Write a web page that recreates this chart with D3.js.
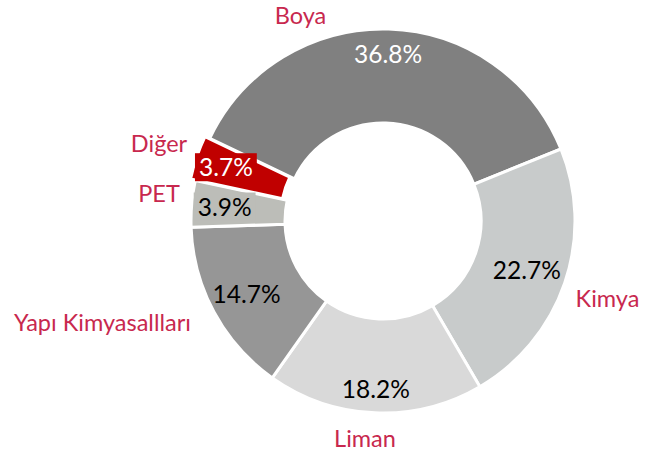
<!DOCTYPE html>
<html><head><meta charset="utf-8">
<script src="https://cdn.jsdelivr.net/npm/d3@7"></script>
<style>html,body{margin:0;padding:0;background:#fff;}svg{display:block;}</style>
</head><body>
<svg id="chart" width="646" height="453"></svg>
<script>
const categories = ["Boya","Kimya","Liman","Yapı Kimyasallları","PET","Diğer"];
const values = [36.8,22.7,18.2,14.7,3.9,3.7];
const valueLabels = ["36.8%","22.7%","18.2%","14.7%","3.9%","3.7%"];
const colors = ["#808080","#C8CBCB","#D9D9D9","#969696","#BCBDB8","#C00000"];
const labelTextColors = ["#ffffff","#000000","#000000","#000000","#000000","#ffffff"];
const labelBoxed = [false,false,false,false,true,true];
const exploded = [false,false,false,false,false,true];

// layout
const W=646,H=453, cx=383, cy=221, R=192, r0=98;
const deg = Math.PI/180;
const catColor = "#C8284E";
const font = "Lato, 'Open Sans', sans-serif";
// value label radii (layout)
const valueRadius = [167,152,168,155,159,161];
// category label anchors in px relative to page: centre x, baseline y
const catLayout = [
  {x:300.5, y:23.5},
  {x:607.5, y:306.5},
  {x:365, y:447},
  {x:102.5, y:331},
  {x:159, y:201.5},
  {x:159, y:151.5}
];

const svg = d3.select("#chart");
const g = svg.append("g").attr("transform",`translate(${cx},${cy})`);

const pie = d3.pie().sort(null).value(d=>d)
  .startAngle(-64.5*deg).endAngle(-64.5*deg+2*Math.PI);
const arcs = pie(values);
const arc = d3.arc().innerRadius(r0).outerRadius(R);

const explode = 5;
const off = d => {
  if(!exploded[d.index]) return [0,0];
  const m=(d.startAngle+d.endAngle)/2;
  return [explode*Math.sin(m), -explode*Math.cos(m)];
};

g.selectAll("path.slice").data(arcs).join("path")
  .attr("class","slice")
  .attr("d",arc)
  .attr("transform",d=>{const o=off(d);return `translate(${o[0]},${o[1]})`;})
  .attr("fill",(d,i)=>colors[i])
  .attr("stroke","#fff").attr("stroke-width",3).attr("stroke-linejoin","miter");

// value labels
const vl = g.selectAll("g.vl").data(arcs).join("g").attr("class","vl")
  .attr("transform",(d,i)=>{
    const la=d3.arc().innerRadius(valueRadius[i]).outerRadius(valueRadius[i]);
    const c=la.centroid(d);const o=off(d);
    return `translate(${c[0]+o[0]},${c[1]+o[1]})`;});
vl.each(function(d,i){
  const sel=d3.select(this);
  const t = sel.append("text").text(valueLabels[i])
    .attr("text-anchor","middle").attr("dy","0.36em")
    .attr("font-family",font).attr("font-size",24.5)
    .attr("fill",labelTextColors[i]);
  if(labelBoxed[i]){
    const bb=t.node().getBBox();
    sel.insert("rect","text").attr("x",bb.x-4).attr("y",bb.y+1).attr("width",bb.width+8).attr("height",bb.height-1)
      .attr("fill",colors[i]);
  }
});

// category labels
svg.selectAll("text.cat").data(arcs).join("text").attr("class","cat")
  .attr("x",(d,i)=>catLayout[i].x)
  .attr("y",(d,i)=>catLayout[i].y)
  .attr("text-anchor","middle")
  .attr("font-family",font).attr("font-size",23.5)
  .attr("fill",catColor)
  .text((d,i)=>categories[i]);
</script>
</body></html>
